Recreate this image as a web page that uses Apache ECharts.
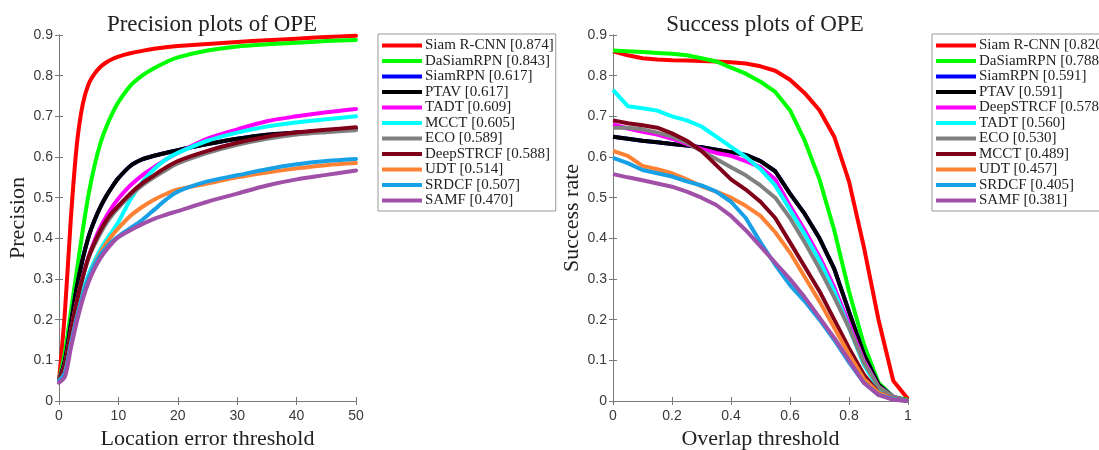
<!DOCTYPE html>
<html><head><meta charset="utf-8">
<script src="https://cdn.jsdelivr.net/npm/echarts@6/dist/echarts.min.js"></script>
<style>html,body{margin:0;padding:0;background:#fff}#c{width:1099px;height:450px}</style>
</head><body><div id="c"></div>
<script>
// ---------- Precision plot data ----------
const P_X = [0,1,2,3,4,5,6,7,8,9,10,12,14,16,18,20,25,30,35,40,45,50];
const P_NAMES = ['Siam R-CNN [0.874]','DaSiamRPN [0.843]','SiamRPN [0.617]','PTAV [0.617]','TADT [0.609]','MCCT [0.605]','ECO [0.589]','DeepSTRCF [0.588]','UDT [0.514]','SRDCF [0.507]','SAMF [0.470]'];
const P_COLORS = ['#ff0000','#00ff00','#0000ff','#000000','#ff00ff','#00ffff','#808080','#80001a','#ff8133','#17a0e6','#a050a8'];
const P_SIAMRCNN = [0.05,0.22,0.45,0.63,0.73,0.78,0.805,0.822,0.833,0.841,0.847,0.855,0.861,0.866,0.870,0.873,0.878,0.883,0.887,0.891,0.895,0.898];
const P_DASIAM   = [0.05,0.12,0.22,0.32,0.42,0.51,0.58,0.635,0.675,0.708,0.735,0.775,0.80,0.818,0.833,0.845,0.862,0.872,0.877,0.881,0.885,0.888];
const P_SIAMRPN  = [0.05,0.10,0.19,0.28,0.35,0.405,0.445,0.478,0.505,0.528,0.548,0.578,0.594,0.603,0.61,0.617,0.632,0.645,0.655,0.66,0.665,0.668];
const P_PTAV     = [0.05,0.10,0.19,0.28,0.35,0.405,0.445,0.478,0.505,0.528,0.548,0.578,0.594,0.603,0.61,0.617,0.632,0.645,0.655,0.66,0.665,0.668];
const P_TADT     = [0.05,0.09,0.17,0.245,0.305,0.355,0.395,0.428,0.455,0.478,0.498,0.53,0.555,0.575,0.594,0.61,0.645,0.668,0.688,0.70,0.71,0.718];
const P_MCCT     = [0.05,0.08,0.15,0.215,0.27,0.312,0.345,0.373,0.397,0.418,0.44,0.495,0.538,0.57,0.594,0.61,0.64,0.66,0.675,0.685,0.693,0.70];
const P_ECO      = [0.05,0.09,0.17,0.245,0.305,0.352,0.385,0.413,0.438,0.458,0.475,0.505,0.53,0.55,0.568,0.584,0.61,0.63,0.645,0.655,0.661,0.666];
const P_DEEPSTRCF= [0.05,0.09,0.17,0.245,0.305,0.355,0.39,0.42,0.445,0.464,0.48,0.51,0.535,0.555,0.574,0.59,0.615,0.635,0.65,0.66,0.667,0.673];
const P_UDT      = [0.05,0.07,0.14,0.205,0.26,0.303,0.337,0.365,0.388,0.408,0.425,0.455,0.477,0.495,0.509,0.52,0.535,0.55,0.562,0.572,0.58,0.585];
const P_SRDCF    = [0.05,0.07,0.14,0.205,0.26,0.303,0.335,0.36,0.378,0.393,0.405,0.425,0.445,0.47,0.495,0.515,0.54,0.555,0.57,0.582,0.59,0.595];
const P_SAMF     = [0.045,0.06,0.13,0.195,0.25,0.293,0.326,0.352,0.372,0.389,0.403,0.42,0.435,0.448,0.458,0.467,0.49,0.51,0.53,0.545,0.556,0.567];
const P_VALUES = [P_SIAMRCNN,P_DASIAM,P_SIAMRPN,P_PTAV,P_TADT,P_MCCT,P_ECO,P_DEEPSTRCF,P_UDT,P_SRDCF,P_SAMF];

// ---------- Success plot data ----------
const S_X = [0,0.05,0.1,0.15,0.2,0.25,0.3,0.35,0.4,0.45,0.5,0.55,0.6,0.65,0.7,0.75,0.8,0.85,0.9,0.95,1];
const S_NAMES = ['Siam R-CNN [0.820]','DaSiamRPN [0.788]','SiamRPN [0.591]','PTAV [0.591]','DeepSTRCF [0.578]','TADT [0.560]','ECO [0.530]','MCCT [0.489]','UDT [0.457]','SRDCF [0.405]','SAMF [0.381]'];
const S_COLORS = ['#ff0000','#00ff00','#0000ff','#000000','#ff00ff','#00ffff','#808080','#80001a','#ff8133','#17a0e6','#a050a8'];
const S_SIAMRCNN = [0.86,0.85,0.843,0.84,0.838,0.837,0.836,0.835,0.833,0.83,0.823,0.812,0.79,0.757,0.715,0.65,0.54,0.38,0.20,0.05,0.005];
const S_DASIAM   = [0.862,0.86,0.858,0.856,0.854,0.85,0.843,0.835,0.82,0.805,0.785,0.76,0.715,0.64,0.545,0.42,0.27,0.14,0.045,0.01,0.003];
const S_SIAMRPN  = [0.65,0.645,0.64,0.636,0.632,0.628,0.624,0.618,0.612,0.605,0.59,0.565,0.51,0.46,0.40,0.325,0.22,0.115,0.04,0.01,0];
const S_PTAV     = [0.65,0.645,0.64,0.636,0.632,0.628,0.624,0.618,0.612,0.605,0.59,0.565,0.51,0.46,0.40,0.325,0.22,0.115,0.04,0.01,0];
const S_DEEPSTRCF= [0.68,0.67,0.662,0.655,0.645,0.632,0.62,0.61,0.603,0.59,0.575,0.545,0.48,0.42,0.355,0.28,0.19,0.10,0.035,0.01,0];
const S_TADT     = [0.765,0.725,0.72,0.714,0.70,0.69,0.675,0.65,0.625,0.60,0.57,0.53,0.47,0.41,0.345,0.27,0.18,0.09,0.03,0.008,0];
const S_ECO      = [0.672,0.672,0.668,0.66,0.65,0.635,0.615,0.595,0.575,0.555,0.53,0.50,0.45,0.39,0.325,0.255,0.18,0.095,0.035,0.01,0];
const S_MCCT     = [0.69,0.683,0.678,0.672,0.658,0.64,0.615,0.58,0.545,0.52,0.49,0.45,0.39,0.33,0.27,0.20,0.13,0.065,0.02,0.005,0];
const S_UDT      = [0.615,0.603,0.578,0.57,0.56,0.545,0.528,0.515,0.50,0.48,0.455,0.415,0.365,0.305,0.245,0.18,0.115,0.055,0.02,0.005,0];
const S_SRDCF    = [0.598,0.585,0.568,0.56,0.552,0.54,0.53,0.515,0.49,0.45,0.39,0.335,0.285,0.245,0.20,0.15,0.095,0.045,0.015,0.005,0];
const S_SAMF     = [0.558,0.55,0.543,0.535,0.527,0.515,0.50,0.482,0.455,0.42,0.38,0.34,0.30,0.255,0.205,0.155,0.10,0.045,0.015,0.003,0];
const S_VALUES = [S_SIAMRCNN,S_DASIAM,S_SIAMRPN,S_PTAV,S_DEEPSTRCF,S_TADT,S_ECO,S_MCCT,S_UDT,S_SRDCF,S_SAMF];

const SERIF = '"Liberation Serif", "DejaVu Serif", serif';
const SANS = '"Liberation Sans", Arial, sans-serif';
const AX = '#7a7a7a';

function fmtTick(v){ return String(Math.round(v*10)/10); }

function mainX(gi, min, max, interval, name){
  return {type:'value', gridIndex:gi, min:min, max:max, interval:interval, position:'bottom',
    name:name, nameLocation:'middle', nameGap:26,
    nameTextStyle:{fontFamily:SERIF, fontSize:22, color:'#222'},
    axisLine:{show:true, lineStyle:{color:AX, width:1}},
    axisTick:{show:true, inside:true, length:4, lineStyle:{color:AX}},
    axisLabel:{fontFamily:SANS, fontSize:14, color:'#3a3a3a', margin:8, formatter:fmtTick},
    splitLine:{show:false}};
}
function mirrorX(gi, min, max, interval){
  return {type:'value', gridIndex:gi, min:min, max:max, interval:interval, position:'top',
    axisLine:{show:true, lineStyle:{color:AX, width:1}},
    axisTick:{show:true, inside:true, length:4, lineStyle:{color:AX}},
    axisLabel:{show:false}, splitLine:{show:false}};
}
function mainY(gi, name){
  return {type:'value', gridIndex:gi, min:0, max:0.9, interval:0.1, position:'left',
    name:name, nameLocation:'middle', nameGap:28,
    nameTextStyle:{fontFamily:SERIF, fontSize:22, color:'#222'},
    axisLine:{show:true, lineStyle:{color:AX, width:1}},
    axisTick:{show:true, inside:true, length:4, lineStyle:{color:AX}},
    axisLabel:{fontFamily:SANS, fontSize:14, color:'#3a3a3a', margin:6, formatter:fmtTick},
    splitLine:{show:false}};
}
function mirrorY(gi){
  return {type:'value', gridIndex:gi, min:0, max:0.9, interval:0.1, position:'right',
    axisLine:{show:true, lineStyle:{color:AX, width:1}},
    axisTick:{show:true, inside:true, length:4, lineStyle:{color:AX}},
    axisLabel:{show:false}, splitLine:{show:false}};
}

const series = [];
P_NAMES.forEach((n,i)=>{
  series.push({type:'line', name:n, xAxisIndex:0, yAxisIndex:0, showSymbol:false, symbol:'none',
    smooth:0.3, color:P_COLORS[i], lineStyle:{width:4, color:P_COLORS[i], join:'round', cap:'round'},
    data:P_X.map((x,k)=>[x,P_VALUES[i][k]]), animation:false, clip:true});
});
S_NAMES.forEach((n,i)=>{
  series.push({type:'line', name:n, xAxisIndex:2, yAxisIndex:2, showSymbol:false, symbol:'none',
    smooth:false, color:S_COLORS[i], lineStyle:{width:4, color:S_COLORS[i], join:'round'},
    data:S_X.map((x,k)=>[x,S_VALUES[i][k]]), animation:false, clip:true});
});

function legend(left, names){
  return {orient:'vertical', left:left, top:34, data:names, icon:'rect',
    itemWidth:40, itemHeight:4, itemGap:0.5, padding:[4,2,3,4],
    borderColor:'#999', borderWidth:1, backgroundColor:'#fff',
    textStyle:{fontFamily:SERIF, fontSize:15, color:'#222', lineHeight:14, padding:[0,0,0,-2]},
    selectedMode:false};
}

const option = {
  animation:false,
  backgroundColor:'#fff',
  title:[
    {text:'Precision plots of OPE', left:207, top:8, textAlign:'center',
     textStyle:{fontFamily:SERIF, fontSize:23, fontWeight:'normal', color:'#222'}},
    {text:'Success plots of OPE', left:760, top:8, textAlign:'center',
     textStyle:{fontFamily:SERIF, fontSize:23, fontWeight:'normal', color:'#222'}}
  ],
  grid:[
    {left:59, top:35, width:297, height:366, outerBoundsMode:'none', containLabel:false},
    {left:613, top:35, width:295, height:366, outerBoundsMode:'none', containLabel:false}
  ],
  xAxis:[
    mainX(0,0,50,10,'Location error threshold'),
    mirrorX(0,0,50,10),
    mainX(1,0,1,0.2,'Overlap threshold'),
    mirrorX(1,0,1,0.2)
  ],
  yAxis:[
    mainY(0,'Precision'),
    mirrorY(0),
    mainY(1,'Success rate'),
    mirrorY(1)
  ],
  legend:[legend(378,P_NAMES), legend(932,S_NAMES)],
  series:series
};
const chart = echarts.init(document.getElementById('c'), null, {renderer:'canvas'});
chart.setOption(option);
</script></body></html>
